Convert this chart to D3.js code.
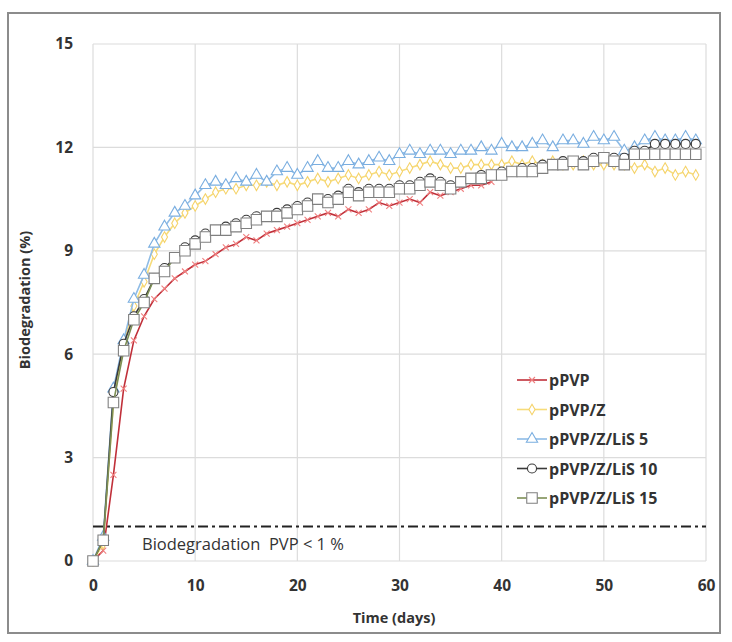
<!DOCTYPE html>
<html>
<head>
<meta charset="utf-8">
<script src="https://cdn.jsdelivr.net/npm/d3@7/dist/d3.min.js"></script>
<style>
	html, body { margin: 0; padding: 0; background: #fff; }
	svg { display: block; }
</style>
</head>
<body>
<script>
// Data (one point per day)
var days = d3.range(0, 60);
var pPVP = [0, 0.3, 2.5, 5.0, 6.4, 7.1, 7.6, 7.9, 8.2, 8.4, 8.6, 8.7, 8.9, 9.1, 9.2, 9.4, 9.3, 9.5, 9.6, 9.7,
	9.8, 9.9, 10.0, 10.1, 10.0, 10.2, 10.1, 10.2, 10.4, 10.3, 10.4, 10.5, 10.4, 10.7, 10.6, 10.7, 10.8, 10.9, 10.9, 11.0];
var pPVPZ = [0, 0.5, 4.6, 6.3, 7.4, 8.1, 8.9, 9.4, 9.8, 10.1, 10.3, 10.5, 10.7, 10.8, 10.8, 10.9, 10.9, 11.0, 10.9, 11.0,
	10.9, 11.0, 11.1, 11.0, 11.1, 11.2, 11.1, 11.2, 11.3, 11.2, 11.3, 11.4, 11.5, 11.6, 11.5, 11.4, 11.4, 11.5, 11.5, 11.5,
	11.5, 11.6, 11.5, 11.6, 11.5, 11.6, 11.5, 11.5, 11.6, 11.5, 11.5, 11.5, 11.5, 11.4, 11.5, 11.3, 11.4, 11.2, 11.3, 11.2];
var lis5 = [0, 0.7, 5.0, 6.4, 7.6, 8.3, 9.2, 9.7, 10.1, 10.3, 10.6, 10.9, 11.0, 10.9, 11.1, 11.0, 11.2, 11.0, 11.3, 11.4,
	11.2, 11.4, 11.6, 11.4, 11.4, 11.6, 11.5, 11.6, 11.7, 11.6, 11.8, 11.9, 11.8, 11.9, 11.9, 11.8, 11.9, 11.9, 12.0, 11.9,
	12.1, 12.0, 12.0, 12.1, 12.2, 12.0, 12.2, 12.2, 12.1, 12.3, 12.2, 12.3, 11.9, 12.0, 12.2, 12.3, 12.2, 12.2, 12.3, 12.2];
var lis10 = [0, 0.6, 4.9, 6.3, 7.1, 7.6, 8.2, 8.5, 8.8, 9.1, 9.3, 9.5, 9.6, 9.7, 9.8, 9.9, 10.0, 10.0, 10.1, 10.2,
	10.3, 10.4, 10.5, 10.5, 10.6, 10.8, 10.7, 10.8, 10.8, 10.8, 10.9, 10.9, 11.0, 11.1, 11.0, 10.9, 11.0, 11.1, 11.2, 11.2,
	11.3, 11.3, 11.4, 11.4, 11.5, 11.5, 11.6, 11.6, 11.6, 11.7, 11.7, 11.7, 11.7, 11.9, 11.9, 12.1, 12.1, 12.1, 12.1, 12.1];
var lis15 = [0, 0.6, 4.6, 6.1, 7.0, 7.5, 8.2, 8.4, 8.8, 9.0, 9.2, 9.4, 9.6, 9.6, 9.7, 9.8, 9.9, 10.0, 10.0, 10.1,
	10.2, 10.3, 10.5, 10.4, 10.5, 10.7, 10.6, 10.7, 10.7, 10.7, 10.8, 10.8, 10.9, 11.0, 10.9, 10.8, 11.0, 11.1, 11.1, 11.2,
	11.2, 11.3, 11.3, 11.3, 11.4, 11.5, 11.5, 11.6, 11.5, 11.6, 11.7, 11.6, 11.5, 11.8, 11.8, 11.8, 11.8, 11.8, 11.8, 11.8];

var seriesNames = ['pPVP', 'pPVP/Z', 'pPVP/Z/LiS 5', 'pPVP/Z/LiS 10', 'pPVP/Z/LiS 15'];
var xTicks = [0, 10, 20, 30, 40, 50, 60];
var yTicks = [0, 3, 6, 9, 12, 15];
var threshold = 1;

// Styles for each series, same order as names
var styles = [
	{ line: '#c0303a', mark: '#f08080', shape: 'cross', size: 5 },
	{ line: '#f7dc7a', mark: '#f5d36a', shape: 'diamond', size: 8 },
	{ line: '#8fbce6', mark: '#7aaee0', shape: 'triangle', size: 10 },
	{ line: '#3a3a3a', mark: '#3a3a3a', shape: 'circle', size: 9 },
	{ line: '#7d8f55', mark: '#808080', shape: 'square', size: 10.5 }
];
var values = [pPVP, pPVPZ, lis5, lis10, lis15];

var FONT = '"Open Sans", Lato, sans-serif';

var W = 732, H = 642;
var svg = d3.select('body').append('svg').attr('width', W).attr('height', H);

// outer frame
svg.append('rect')
	.attr('x', 8).attr('y', 13).attr('width', 712).attr('height', 620)
	.attr('fill', '#fff').attr('stroke', '#8c8c8c').attr('stroke-width', 2);

var x = d3.scaleLinear().domain([0, 60]).range([93, 706]);
var y = d3.scaleLinear().domain([0, 15]).range([561, 44]);

// grid
svg.append('g').selectAll('line.v').data(xTicks).enter().append('line')
	.attr('x1', (d) => x(d)).attr('x2', (d) => x(d))
	.attr('y1', y(15)).attr('y2', y(0))
	.attr('stroke', '#dcdcdc').attr('stroke-width', 1.2);
svg.append('g').selectAll('line.h').data(yTicks).enter().append('line')
	.attr('x1', x(0)).attr('x2', x(60))
	.attr('y1', (d) => y(d)).attr('y2', (d) => y(d))
	.attr('stroke', '#dcdcdc').attr('stroke-width', 1.2);

// tick labels via axes with no lines
var xAxis = svg.append('g').attr('transform', 'translate(0,' + y(0) + ')')
	.call(d3.axisBottom(x).tickValues(xTicks).tickSize(0).tickPadding(19));
var yAxis = svg.append('g').attr('transform', 'translate(' + x(0) + ',0)')
	.call(d3.axisLeft(y).tickValues(yTicks).tickSize(0).tickPadding(20));
[xAxis, yAxis].forEach((a) => {
	a.select('.domain').remove();
	a.selectAll('text')
		.attr('font-family', FONT)
		.attr('font-weight', 'bold').attr('font-size', 15.5).attr('fill', '#333');
});

// axis titles
svg.append('text').attr('x', 394).attr('y', 623)
	.attr('text-anchor', 'middle')
	.attr('font-family', FONT).attr('font-weight', 'bold')
	.attr('font-size', 14.5).attr('fill', '#333').text('Time (days)');
svg.append('text').attr('transform', 'translate(30,' + 300 + ') rotate(-90)')
	.attr('text-anchor', 'middle')
	.attr('font-family', FONT).attr('font-weight', 'bold')
	.attr('font-size', 14.5).attr('fill', '#333').text('Biodegradation (%)');

// PVP threshold line
svg.append('line')
	.attr('x1', x(0)).attr('x2', x(60)).attr('y1', y(threshold)).attr('y2', y(threshold))
	.attr('stroke', '#222').attr('stroke-width', 2).attr('stroke-dasharray', '10,4,3,4');
svg.append('text').attr('x', 142).attr('y', 550)
	.attr('font-family', FONT)
	.attr('font-size', 16.5).attr('fill', '#333').attr('xml:space', 'preserve')
	.text('Biodegradation  PVP < 1 %');

var symbolFor = (shape) => ({
	cross: d3.symbolX, diamond: d3.symbolDiamond, triangle: d3.symbolTriangle,
	circle: d3.symbolCircle, square: d3.symbolSquare
})[shape];

var drawMarker = (g, st, px, py) => {
	var area = st.size * st.size * (st.shape === 'circle' ? 0.8 : st.shape === 'triangle' ? 0.55 : st.shape === 'diamond' ? 0.5 : 1);
	g.append('path')
		.attr('d', d3.symbol().type(symbolFor(st.shape)).size(area)())
		.attr('transform', 'translate(' + px + ',' + py + ')')
		.attr('fill', st.shape === 'cross' ? 'none' : '#fff')
		.attr('stroke', st.mark).attr('stroke-width', 1.1);
};

var line = d3.line().x((d) => x(d[0])).y((d) => y(d[1]));

// series
values.forEach((vals, i) => {
	var st = styles[i];
	var pts = vals.map((v, k) => [days[k], v]);
	var g = svg.append('g');
	g.append('path').datum(pts).attr('d', line)
		.attr('fill', 'none').attr('stroke', st.line).attr('stroke-width', 1.6);
	pts.forEach((p) => drawMarker(g, st, x(p[0]), y(p[1])));
});

// legend
var legend = svg.append('g');
seriesNames.forEach((name, i) => {
	var st = styles[i];
	var ly = 380 + i * 29.5;
	legend.append('line').attr('x1', 517).attr('x2', 547).attr('y1', ly).attr('y2', ly)
		.attr('stroke', st.line).attr('stroke-width', 1.6);
	drawMarker(legend, st, 532, ly);
	legend.append('text').attr('x', 549).attr('y', ly + 6)
		.attr('font-family', FONT).attr('font-weight', 'bold')
		.attr('font-size', 16).attr('fill', '#333').text(name);
});
</script>
</body>
</html>
